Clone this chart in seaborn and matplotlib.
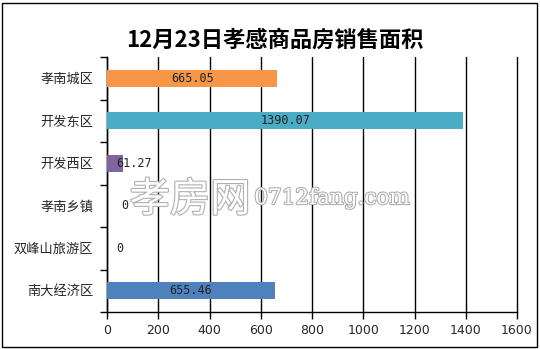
import matplotlib
matplotlib.use("Agg")
import matplotlib.pyplot as plt
import matplotlib.patheffects as pe
from matplotlib.patches import Rectangle
import seaborn as sns
import pandas as pd
import numpy as np

categories = ["孝南城区", "开发东区", "开发西区", "孝南乡镇", "双峰山旅游区", "南大经济区"]
values = [665.05, 1390.07, 61.27, 0, 0, 655.46]
labels = ["665.05", "1390.07", "61.27", "0", "0", "655.46"]
colors = ["#F79646", "#4BACC6", "#8064A2", "#9BBB59", "#C0504D", "#4F81BD"]
xticks = [0, 200, 400, 600, 800, 1000, 1200, 1400, 1600]
title = "12月23日孝感商品房销售面积"

sns.set_theme(style="white")
plt.rcParams['font.family'] = ['Noto Sans CJK SC', 'DejaVu Sans']

df = pd.DataFrame({"cat": categories, "val": values})

fig = plt.figure(figsize=(5.4, 3.49), dpi=100)
ax = fig.add_axes([107/540, 1 - 312/349, 410/540, 255/349])

sns.barplot(data=df, x="val", y="cat", hue="cat", palette=colors, legend=False,
            width=0.4, saturation=1, ax=ax, zorder=3, linewidth=0, edgecolor='none')

ax.set_xlim(0, 1600)
ax.set_ylim(5.5, -0.5)
ax.set_xticks(xticks)
ax.set_xticklabels([str(t) for t in xticks], fontsize=9, family='DejaVu Sans')
ax.set_xlabel("")
ax.set_ylabel("")
ax.tick_params(axis='y', labelsize=9.5, length=0, pad=10)
ax.set_yticks(np.arange(-0.5, 6, 1), minor=True)
ax.tick_params(axis='y', which='minor', length=5, width=1, color='black', direction='out', left=True)
ax.tick_params(axis='x', length=5, width=1, color='black', direction='out', bottom=True, labelsize=9, pad=4)
ax.xaxis.grid(True, color='black', linewidth=1, zorder=0)
for gl in ax.get_xgridlines():
    gl.set_clip_on(False)
ax.set_axisbelow(True)
for s in ['top', 'right']:
    ax.spines[s].set_visible(False)
for s in ['left', 'bottom']:
    ax.spines[s].set_color('black')
    ax.spines[s].set_linewidth(1)

# watermark
stroke = [pe.withStroke(linewidth=1.6, foreground='#b0b0b0')]
fig.text(190/540, 1 - 200/349, "孝房网", fontsize=29, color='white', ha='center', va='center',
         path_effects=stroke, zorder=1)
fig.text(332/540, 1 - 198/349, "0712fang.com", fontsize=15.5, color='white', ha='center', va='center',
         family='DejaVu Serif', path_effects=stroke, zorder=1)

# value labels
for i, (v, lab) in enumerate(zip(values, labels)):
    if v > 300:
        ax.text(v / 2, i, lab, ha='center', va='center', fontsize=8.5, color='#222222',
                family='DejaVu Sans Mono', zorder=5)
    elif v > 0:
        ax.text(v / 2 + 5, i, lab, ha='left', va='center', fontsize=8.5, color='#222222',
                family='DejaVu Sans Mono', zorder=5)
    else:
        ax.text(v + (70 if i == 3 else 50), i, lab, ha='center', va='center', fontsize=8.5,
                color='#222222', family='DejaVu Sans Mono', zorder=5)

fig.text(275/540, 1 - 40/349, title, fontsize=16, fontweight='bold', ha='center', va='center',
         color='black')

fig.patches.append(Rectangle((2/540, 2/349), 535/540, 344/349, transform=fig.transFigure,
                             fill=False, edgecolor='black', linewidth=1))

fig.savefig("out.png", dpi=100)
